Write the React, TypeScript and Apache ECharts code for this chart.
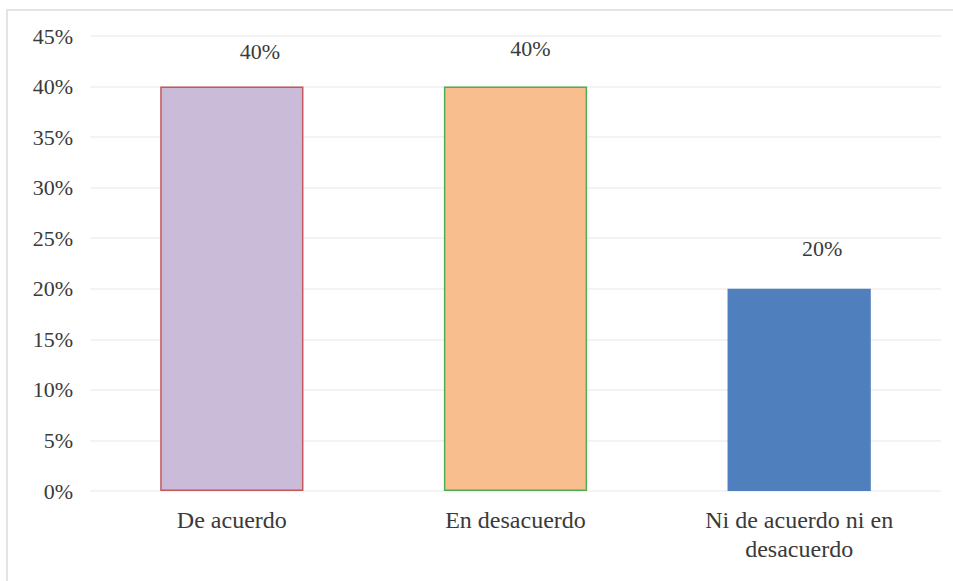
import React, { useEffect, useRef } from "react";
import * as echarts from "echarts";

const categories = ["De acuerdo", "En desacuerdo", "Ni de acuerdo ni en\ndesacuerdo"];
const values = [40, 40, 20];
const yTicks = [0, 5, 10, 15, 20, 25, 30, 35, 40, 45];

const FONT = "Liberation Serif";
const TEXT = "#3a3a3a";

export default function App() {
  const ref = useRef<HTMLDivElement>(null);
  useEffect(() => {
    if (!ref.current) return;
    const chart = echarts.init(ref.current, undefined, { renderer: "svg" });
    const fills = ["#CABCD8", "#F8BE8E", "#4F80BD"];
    const borders = ["#C4575B", "#4DAE55", "#4F80BD"];
    const labelStyles = [
      { distance: 24, offset: [28, 0] },
      { distance: 27, offset: [15, 0] },
      { distance: 29, offset: [23, 0] },
    ];
    chart.setOption({
      animation: false,
      backgroundColor: "#ffffff",
      textStyle: { fontFamily: FONT },
      graphic: [
        {
          type: "rect",
          shape: { x: 7, y: 10, width: 960, height: 600 },
          style: { fill: "none", stroke: "#DCDCDC", lineWidth: 1.5 },
          silent: true,
          z: -10,
        },
      ],
      grid: { left: 90, right: 12, top: 36, bottom: 90, containLabel: false },
      xAxis: {
        type: "category",
        data: categories,
        axisLine: { show: false },
        axisTick: { show: false },
        axisLabel: {
          color: TEXT,
          fontFamily: FONT,
          fontSize: 24,
          lineHeight: 29,
          margin: 14,
          interval: 0,
        },
      },
      yAxis: {
        type: "value",
        min: yTicks[0],
        max: yTicks[yTicks.length - 1],
        interval: 5,
        axisLine: { show: false },
        axisTick: { show: false },
        splitLine: { lineStyle: { color: "#EFEFEF", width: 1.5 } },
        axisLabel: {
          color: TEXT,
          fontFamily: FONT,
          fontSize: 22,
          margin: 17,
          formatter: (v: number) => `${v}%`,
        },
      },
      series: [
        {
          type: "bar",
          barWidth: "50.5%",
          data: values.map((v, i) => ({
            value: v,
            itemStyle: { color: fills[i], borderColor: borders[i], borderWidth: 1.5 },
            label: {
              show: true,
              position: "top",
              distance: labelStyles[i].distance,
              offset: labelStyles[i].offset,
            },
          })),
          label: {
            show: true,
            color: TEXT,
            fontFamily: FONT,
            fontSize: 22,
            formatter: (p: any) => `${p.value}%`,
          },
        },
      ],
    });
    return () => chart.dispose();
  }, []);
  return (
    <div
      ref={ref}
      style={{ position: "fixed", left: 0, top: 0, width: 953, height: 581 }}
    />
  );
}
